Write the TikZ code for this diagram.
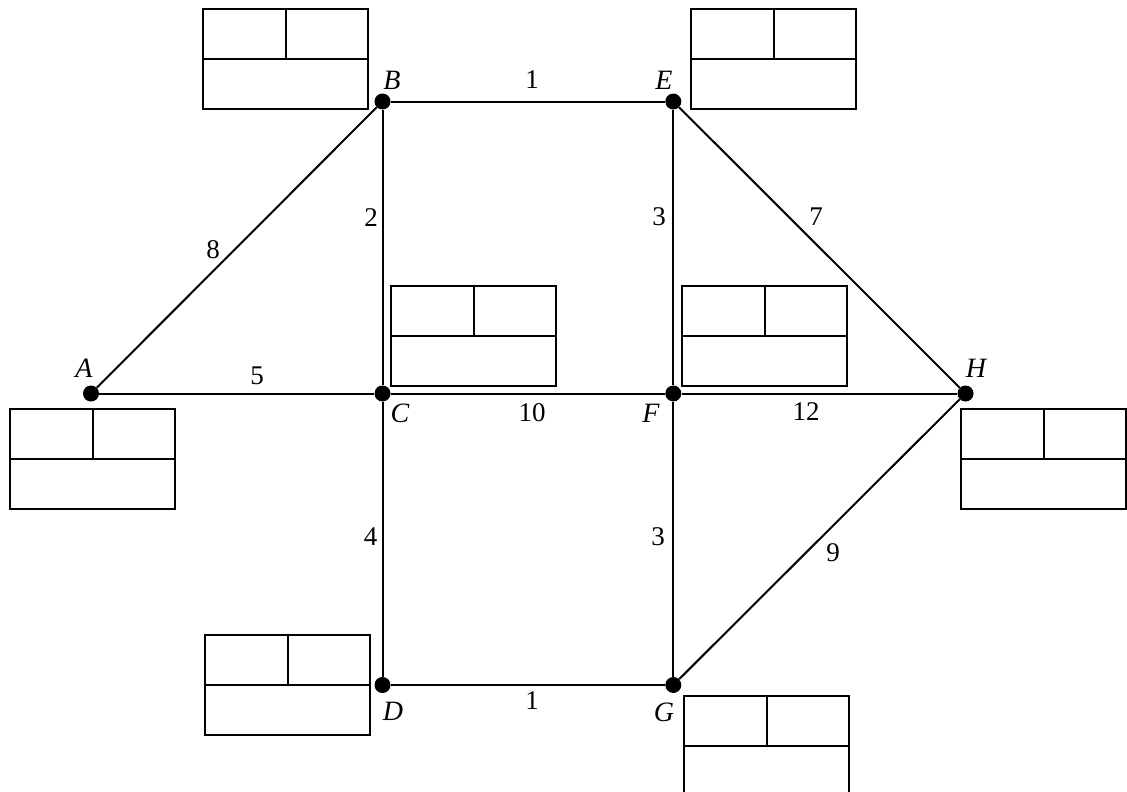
\documentclass[tikz,border=0pt]{standalone}
\usepackage{fontspec}
\setmainfont{Liberation Serif}
\begin{document}
\begin{tikzpicture}[x=1pt,y=-1pt,
 vtx/.style={circle,fill=black,inner sep=0pt,minimum size=16pt},
 tbl/.style={draw,line width=2pt,minimum width=165pt,minimum height=100pt,inner sep=0pt,anchor=north west},
 edge/.style={line width=2pt},
 part/.style={line width=2pt},
 lbl/.style={font=\fontsize{28}{32}\selectfont\itshape,inner sep=0pt},
 wt/.style={font=\fontsize{27}{32}\selectfont,inner sep=0pt}]
\useasboundingbox (0,0) rectangle (1127,792);
% vertices
\node[vtx] (A) at (91,393.5) {};
\node[vtx] (B) at (382.5,101.5) {};
\node[vtx] (C) at (382.5,393.5) {};
\node[vtx] (D) at (382.5,685) {};
\node[vtx] (E) at (673.3,101.5) {};
\node[vtx] (F) at (673.3,393.5) {};
\node[vtx] (G) at (673.3,685) {};
\node[vtx] (H) at (965.5,393.5) {};
% edges
\draw[edge] (A) -- (B);
\draw[edge] (A) -- (C);
\draw[edge] (B) -- (E);
\draw[edge] (B) -- (C);
\draw[edge] (C) -- (F);
\draw[edge] (C) -- (D);
\draw[edge] (E) -- (F);
\draw[edge] (E) -- (H);
\draw[edge] (F) -- (H);
\draw[edge] (F) -- (G);
\draw[edge] (D) -- (G);
\draw[edge] (G) -- (H);
% vertex labels
\node[lbl] (lA) at (84,368) {A};
\node[lbl] (lB) at (392,80) {B};
\node[lbl] (lC) at (400,413) {C};
\node[lbl] (lD) at (393,711) {D};
\node[lbl] (lE) at (664,80) {E};
\node[lbl] (lF) at (651,413) {F};
\node[lbl] (lG) at (664,712) {G};
\node[lbl] (lH) at (976,368) {H};
% weights
\node[wt] (w1) at (532,80) {1};
\node[wt] (w2) at (371,218) {2};
\node[wt] (w3) at (659,217) {3};
\node[wt] (w4) at (370.7,537) {4};
\node[wt] (w5) at (257,376) {5};
\node[wt] (w6) at (658,537) {3};
\node[wt] (w7) at (816,217) {7};
\node[wt] (w8) at (213,250) {8};
\node[wt] (w9) at (833,553) {9};
\node[wt] (w10) at (532,413) {10};
\node[wt] (w11) at (532,701) {1};
\node[wt] (w12) at (806,412) {12};
% tables
\foreach \n/\x/\y in {tA/9/408, tB/202/8, tC/390/285, tD/204/634, tE/690/8, tF/681/285, tG/683/695, tH/960/408}{
  \node[tbl] (\n) at (\x,\y) {};
  \draw[part] (\n.west) -- (\n.east);
  \draw[part] (\n.north) -- (\n.center);
}
\end{tikzpicture}
\end{document}
